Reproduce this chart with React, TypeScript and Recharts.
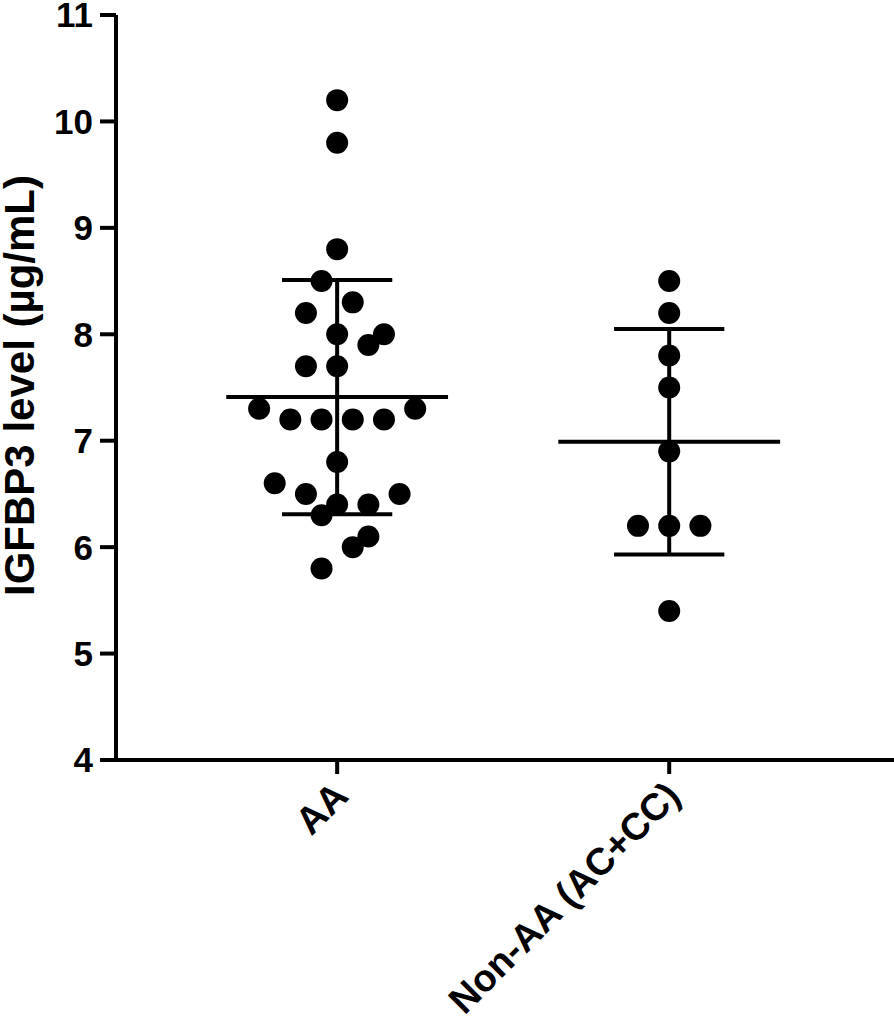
import React from 'react';
import { ScatterChart, Scatter, XAxis, YAxis, ReferenceLine, Label } from 'recharts';

// groups
const groups = ['AA', 'Non-AA (AC+CC)'];

// IGFBP3 values per group
const aaValues = [10.2, 9.8, 8.8, 8.5, 8.3, 8.2, 8.0, 8.0, 7.9, 7.7, 7.7, 7.3, 7.3, 7.2, 7.2, 7.2, 7.2, 6.8, 6.6, 6.5, 6.5, 6.4, 6.4, 6.3, 6.1, 6.0, 5.8];
// horizontal slot of each dot in the swarm (0 = centre)
const aaSlots = [0, 0, 0, -1, 1, -2, 0, 3, 2, -2, 0, -5, 5, -3, -1, 1, 3, 0, -4, -2, 4, 0, 2, -1, 2, 1, -1];

const nonAaValues = [8.5, 8.2, 7.8, 7.5, 6.9, 6.2, 6.2, 6.2, 5.4];
const nonAaSlots = [0, 0, 0, 0, 0, -2, 0, 2, 0];

// mean and mean +/- SD per group
const means = [7.41, 6.99];
const sdUpper = [8.51, 8.05];
const sdLower = [6.31, 5.93];

const yTicks = [4, 5, 6, 7, 8, 9, 10, 11];

const JITTER = 0.047;
const MEAN_HALF = 0.334;
const SD_HALF = 0.166;
const FONT = '"Liberation Sans", Arial, sans-serif';

const toPoints = (values: number[], slots: number[], g: number) =>
    values.map((v, i) => ({ x: g + slots[i] * JITTER, y: v }));

const aaData = toPoints(aaValues, aaSlots, 1);
const nonAaData = toPoints(nonAaValues, nonAaSlots, 2);

const Dot = (props: any) => <circle cx={props.cx} cy={props.cy} r={11} fill="#000" />;

const XTick = (props: any) => {
    const { x, y, payload } = props;
    const px = x + 13;
    const py = y + 22;
    return (
        <text
            x={px}
            y={py}
            transform={`rotate(-45, ${px}, ${py})`}
            textAnchor="end"
            fontFamily={FONT}
            fontWeight="bold"
            fontSize={38}
            fill="#000"
        >
            {groups[payload.value - 1]}
        </text>
    );
};

const YTitle = (props: any) => {
    const vb = props.viewBox;
    const px = 34;
    const py = vb.y + vb.height / 2 - 2;
    return (
        <text
            x={px}
            y={py}
            transform={`rotate(-90, ${px}, ${py})`}
            textAnchor="middle"
            fontFamily={FONT}
            fontWeight="bold"
            fontSize={42}
            fill="#000"
        >
            IGFBP3 level (µg/mL)
        </text>
    );
};

export default function App() {
    const axisLine = { stroke: '#000', strokeWidth: 4 };
    return (
        <div style={{ position: 'absolute', left: 0, top: 0, background: '#fff' }}>
            <ScatterChart width={894} height={1022} margin={{ top: 15, right: 0, bottom: 12, left: 0 }}>
                <XAxis
                    type="number"
                    dataKey="x"
                    domain={[0.334, 2.677]}
                    ticks={[1, 2]}
                    allowDataOverflow
                    height={250}
                    axisLine={axisLine}
                    tickLine={axisLine}
                    tickSize={14}
                    tick={<XTick />}
                    interval={0}
                />
                <YAxis
                    type="number"
                    dataKey="y"
                    domain={[4, 11]}
                    ticks={yTicks}
                    allowDataOverflow
                    width={116}
                    axisLine={axisLine}
                    tickLine={axisLine}
                    tickSize={16}
                    tickMargin={7}
                    interval={0}
                    tick={{ fill: '#000', fontFamily: FONT, fontWeight: 'bold', fontSize: 35 }}
                >
                    <Label content={<YTitle />} />
                </YAxis>
                {means.map((m, i) => (
                    <ReferenceLine
                        key={`mean-${i}`}
                        segment={[{ x: i + 1 - MEAN_HALF, y: m }, { x: i + 1 + MEAN_HALF, y: m }]}
                        stroke="#000"
                        strokeWidth={4}
                    />
                ))}
                {sdUpper.map((u, i) => (
                    <ReferenceLine
                        key={`up-${i}`}
                        segment={[{ x: i + 1 - SD_HALF, y: u }, { x: i + 1 + SD_HALF, y: u }]}
                        stroke="#000"
                        strokeWidth={4}
                    />
                ))}
                {sdLower.map((l, i) => (
                    <ReferenceLine
                        key={`low-${i}`}
                        segment={[{ x: i + 1 - SD_HALF, y: l }, { x: i + 1 + SD_HALF, y: l }]}
                        stroke="#000"
                        strokeWidth={4}
                    />
                ))}
                {sdUpper.map((u, i) => (
                    <ReferenceLine
                        key={`vert-${i}`}
                        segment={[{ x: i + 1, y: u }, { x: i + 1, y: sdLower[i] }]}
                        stroke="#000"
                        strokeWidth={4}
                    />
                ))}
                <Scatter data={aaData} shape={<Dot />} isAnimationActive={false} />
                <Scatter data={nonAaData} shape={<Dot />} isAnimationActive={false} />
            </ScatterChart>
        </div>
    );
}
